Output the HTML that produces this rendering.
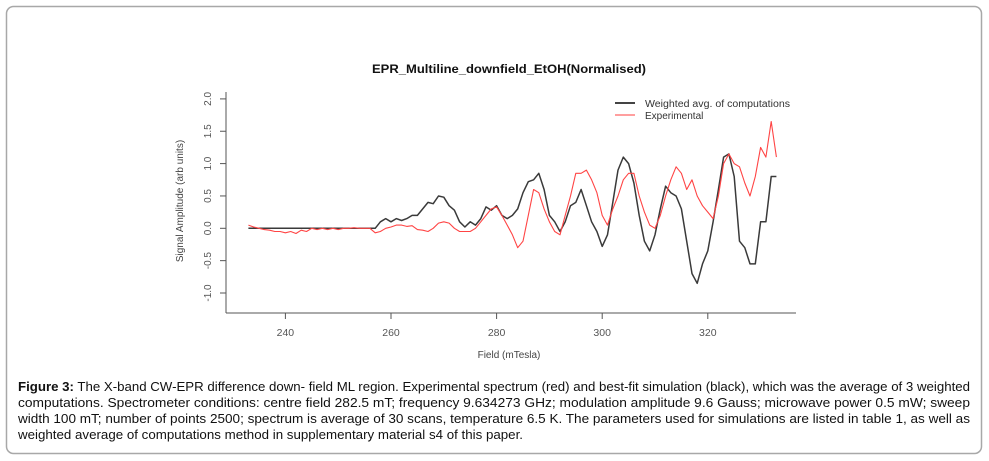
<!DOCTYPE html>
<html><head><meta charset="utf-8"><style>
html,body{margin:0;padding:0;background:#fff;}
svg{display:block;font-family:"Liberation Sans",Arial,sans-serif;}
</style></head><body>
<svg id="chart" width="989" height="461" viewBox="0 0 989 461">
<rect x="6.5" y="6.5" width="975" height="447" rx="7" fill="#fff" stroke="#a8a8a8" stroke-width="1.5"/>
<text x="509" y="73" text-anchor="middle" font-size="12" font-weight="bold" fill="#111" textLength="274" lengthAdjust="spacingAndGlyphs">EPR_Multiline_downfield_EtOH(Normalised)</text>
<line x1="226" y1="92" x2="226" y2="313" stroke="#555" stroke-width="1"/>
<line x1="226" y1="313" x2="796" y2="313" stroke="#555" stroke-width="1"/>
<g id="yticks"></g>
<g id="xticks"></g>
<text transform="translate(183,201) rotate(-90)" text-anchor="middle" font-size="10" fill="#444">Signal Amplitude (arb units)</text>
<text x="509" y="358" text-anchor="middle" font-size="10" fill="#444">Field (mTesla)</text>
<g id="series"></g>
<g>
<line x1="615" y1="103" x2="635" y2="103" stroke="#444" stroke-width="2"/>
<text x="645" y="107" font-size="10" fill="#333" textLength="145" lengthAdjust="spacingAndGlyphs">Weighted avg. of computations</text>
<line x1="615" y1="115" x2="635" y2="115" stroke="#f66" stroke-width="1.2"/>
<text x="645" y="119" font-size="10" fill="#333">Experimental</text>
</g>
<g font-size="12.5" fill="#111">
<text x="18" y="391" textLength="952" lengthAdjust="spacingAndGlyphs"><tspan font-weight="bold">Figure 3:</tspan> The X-band CW-EPR difference down- field ML region. Experimental spectrum (red) and best-fit simulation (black), which was the average of 3 weighted</text>
<text x="18" y="407" textLength="952" lengthAdjust="spacingAndGlyphs">computations. Spectrometer conditions: centre field 282.5 mT; frequency 9.634273 GHz; modulation amplitude 9.6 Gauss; microwave power 0.5 mW; sweep</text>
<text x="18" y="423" textLength="952" lengthAdjust="spacingAndGlyphs">width 100 mT; number of points 2500; spectrum is average of 30 scans, temperature 6.5 K. The parameters used for simulations are listed in table 1, as well as</text>
<text x="18" y="439" textLength="505" lengthAdjust="spacingAndGlyphs">weighted average of computations method in supplementary material s4 of this paper.</text>
</g>
</svg>
<script>
const fieldStart = 233;
const blackValues = [0,0,0,0,0,0,0,0,0,0,0,0,0,0,0,0,0,0,0,0,0,0,0,0,0,0.1,0.15,0.1,0.15,0.12,0.15,0.2,0.2,0.3,0.4,0.38,0.5,0.48,0.35,0.28,0.1,0.02,0.1,0.05,0.15,0.33,0.28,0.35,0.2,0.15,0.2,0.3,0.55,0.72,0.75,0.85,0.6,0.2,0.1,-0.05,0.1,0.35,0.4,0.6,0.35,0.1,-0.05,-0.28,-0.1,0.4,0.9,1.1,1.0,0.7,0.2,-0.2,-0.35,-0.1,0.3,0.65,0.55,0.5,0.3,-0.2,-0.7,-0.85,-0.55,-0.35,0.1,0.6,1.1,1.15,0.8,-0.2,-0.3,-0.55,-0.55,0.1,0.1,0.8,0.8];
const redValues = [0.05,0.02,0,-0.02,-0.03,-0.05,-0.05,-0.07,-0.05,-0.08,-0.03,-0.05,0,-0.02,0,-0.02,0,-0.02,0,0,0.01,0,0,0,-0.07,-0.05,0,0.02,0.05,0.05,0.03,0.04,-0.02,-0.03,-0.05,0,0.08,0.1,0.08,0,-0.05,-0.05,-0.05,0,0.1,0.2,0.3,0.33,0.2,0.05,-0.1,-0.3,-0.2,0.2,0.6,0.55,0.3,0.1,-0.05,-0.1,0.2,0.5,0.85,0.85,0.9,0.75,0.55,0.2,0.05,0.3,0.5,0.75,0.85,0.85,0.5,0.25,0.05,0,0.2,0.5,0.75,0.95,0.85,0.6,0.75,0.5,0.35,0.25,0.15,0.5,1.0,1.15,1.0,0.95,0.7,0.5,0.8,1.25,1.1,1.65,1.1];
const xTickValues = [240,260,280,300,320];
const yTickValues = [-1.0,-0.5,0.0,0.5,1.0,1.5,2.0];

const NS = "http://www.w3.org/2000/svg";
function xScale(v){ return 285.4 + (v - 240) * 5.28; }
function yScale(v){ return 228.3 - v * 64.7; }
function mk(tag, attrs){ const e = document.createElementNS(NS, tag); for (const k in attrs) e.setAttribute(k, attrs[k]); return e; }

const yt = document.getElementById('yticks');
yTickValues.forEach(v => {
  const y = yScale(v);
  const t = mk('line', {x1:220, y1:y, x2:226, y2:y, stroke:'#555'});
  
  
  yt.appendChild(t);
  const l = mk('text', {transform:`translate(211,${y}) rotate(-90)`, 'text-anchor':'middle', 'font-size':'10', fill:'#555'});
  l.textContent = v.toFixed(1);
  
  
  yt.appendChild(l);
});
const xt = document.getElementById('xticks');
xTickValues.forEach(v => {
  const x = xScale(v);
  const t = mk('line', {x1:x, y1:313, x2:x, y2:319, stroke:'#555'});
  
  
  xt.appendChild(t);
  const l = mk('text', {x:x, y:336, 'text-anchor':'middle', 'font-size':'10.5', fill:'#555'});
  l.textContent = v;
  
  
  xt.appendChild(l);
});
function pathFor(vals){ return vals.map((v,i) => (i ? 'L' : 'M') + xScale(fieldStart + i).toFixed(1) + ',' + yScale(v).toFixed(1)).join(''); }
const g = document.getElementById('series');
const pb = mk('path', {d:pathFor(blackValues), fill:'none', stroke:'#3a3a3a', 'stroke-width':'1.5', 'stroke-linejoin':'round'});


g.appendChild(pb);
const pr = mk('path', {d:pathFor(redValues), fill:'none', stroke:'#f44', 'stroke-width':'1.1', 'stroke-linejoin':'round'});


g.appendChild(pr);
</script>
</body></html>
